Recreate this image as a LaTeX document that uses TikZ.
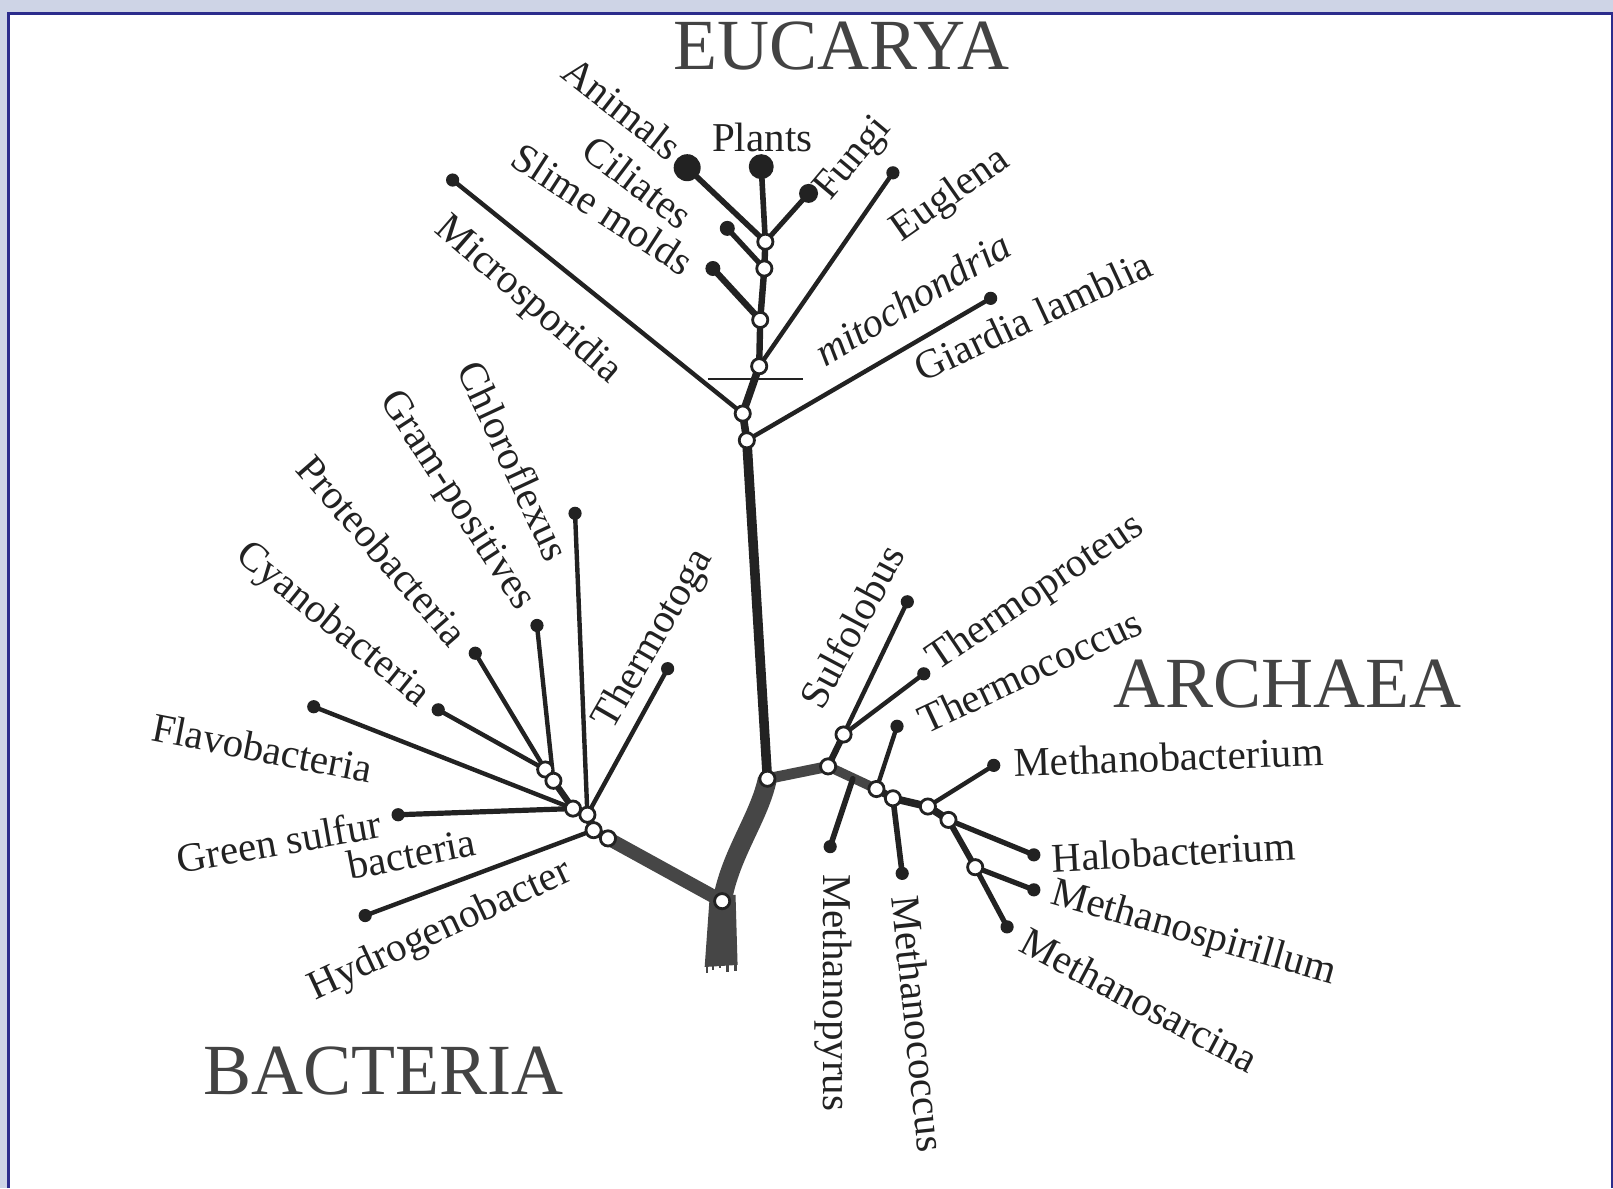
\documentclass[tikz,border=0pt]{standalone}
\usepackage{fontspec}
\setmainfont{Liberation Serif}

\definecolor{bandgray}{RGB}{206,212,230}
\definecolor{frameblue}{RGB}{44,44,140}
\definecolor{ink}{RGB}{34,34,34}
\definecolor{bark}{RGB}{70,70,70}

\pgfdeclarelayer{paper}
\pgfdeclarelayer{twigs}
\pgfsetlayers{paper,twigs,main}

\tikzset{
  leaf/.style={circle, fill=ink, inner sep=0pt, minimum size=6.6pt},
  bigleaf/.style={leaf, minimum size=13pt},
  fork/.style={circle, draw=ink, fill=white, line width=1.4pt, inner sep=0pt, minimum size=7.6pt},
  twig/.style={draw=ink, line width=2.2pt, line cap=round},
  limb/.style={draw=bark, line width=5.4pt, line cap=round},
  taxon/.style={font=\fontsize{20.5}{24}\selectfont, inner sep=0pt, text=ink},
  kingdom/.style={font=\fontsize{36}{40}\selectfont, inner sep=0pt, text=ink!85},
}

\begin{document}
\begin{tikzpicture}[x=0.5144pt, y=-0.5144pt]
    \useasboundingbox (0,0) rectangle (1568,1155);
    \begin{pgfonlayer}{paper}
        \fill[bandgray] (0,0) rectangle (1568,1155);
        \fill[white] (8,13) rectangle (1568,1155);
        \draw[frameblue, line width=1.4pt] (8,1155) -- (8,13) -- (1567,13) -- (1567,1155);
    \end{pgfonlayer}

    % domains
    \node[kingdom] (eucarya) at (818,45) {EUCARYA};
    \node[kingdom] (archaea) at (1252,665) {ARCHAEA};
    \node[kingdom] (bacteria) at (373,1041) {BACTERIA};

    % trunk
    \node[fork] (b0) at (702,876) {};
    \node[fork] (j0) at (746,757) {};

    % eucarya
    \node[fork] (e1) at (744,235) {};
    \node[fork] (e2) at (743,261) {};
    \node[fork] (e3) at (739,311) {};
    \node[fork] (e4) at (738,356) {};
    \node[fork] (e5) at (722,402) {};
    \node[fork] (e6) at (726,428) {};
    \node[bigleaf, minimum size=13.5pt] (animals) at (668,163) {};
    \node[bigleaf, minimum size=12.5pt] (plants) at (740,162) {};
    \node[leaf, minimum size=9.5pt] (fungi) at (786,188) {};
    \node[leaf, minimum size=7.5pt] (ciliates) at (707,222) {};
    \node[leaf, minimum size=7.5pt] (slime) at (693,261) {};
    \node[leaf] (micro) at (440,175) {};
    \node[leaf] (euglena) at (868,168) {};
    \node[leaf] (giardia) at (963,290) {};
    \coordinate (mitoL) at (688,368);
    \coordinate (mitoR) at (781,368);

    \node[taxon, rotate=-38] (l-animals) at (605,105) {Animals};
    \node[taxon] (l-plants) at (741,134) {Plants};
    \node[taxon, rotate=50] (l-fungi) at (830,155) {Fungi};
    \node[taxon, rotate=-37] (l-ciliates) at (620,177) {Ciliates};
    \node[taxon, rotate=-33] (l-slime) at (586,203) {Slime molds};
    \node[taxon, rotate=-41] (l-micro) at (513,292) {Microsporidia};
    \node[taxon, rotate=35] (l-euglena) at (924,190) {Euglena};
    \node[taxon, rotate=31, font=\fontsize{20.5}{24}\selectfont\itshape] (l-mito) at (887,290) {mitochondria};
    \node[taxon, rotate=25] (l-giardia) at (1004,307) {Giardia lamblia};

    % bacteria
    \node[fork] (ba1) at (530,748) {};
    \node[fork] (ba2) at (538,759) {};
    \node[fork] (bb) at (557,786) {};
    \node[fork] (bc) at (571,792) {};
    \node[fork] (bd) at (577,807) {};
    \node[fork] (be) at (591,815) {};
    \node[leaf] (chloro) at (559,499) {};
    \node[leaf] (gram) at (522,608) {};
    \node[leaf] (proteo) at (462,635) {};
    \node[leaf] (cyano) at (426,690) {};
    \node[leaf] (flavo) at (305,687) {};
    \node[leaf] (green) at (387,792) {};
    \node[leaf] (hydro) at (355,890) {};
    \node[leaf] (thermotoga) at (649,650) {};

    \node[taxon, rotate=-65] (l-chloro) at (500,448) {Chloroflexus};
    \node[taxon, rotate=-57] (l-gram) at (443,487) {Gram-positives};
    \node[taxon, rotate=-49] (l-proteo) at (372,535) {Proteobacteria};
    \node[taxon, rotate=-39] (l-cyano) at (323,608) {Cyanobacteria};
    \node[taxon, rotate=60] (l-thermotoga) at (636,622) {Thermotoga};
    \node[taxon, rotate=-11] (l-flavo) at (255,727) {Flavobacteria};
    \node[taxon, rotate=10] (l-green) at (271,818) {Green sulfur};
    \node[taxon, rotate=11] (l-green2) at (400,830) {bacteria};
    \node[taxon, rotate=25] (l-hydro) at (428,905) {Hydrogenobacter};

    % archaea
    \node[fork] (a1) at (805,745) {};
    \node[fork] (as) at (820,714) {};
    \node[fork] (a2) at (852,767) {};
    \node[fork] (a3) at (868,776) {};
    \node[fork] (a4) at (902,784) {};
    \node[fork] (a5) at (922,797) {};
    \node[fork] (a6) at (948,843) {};
    \coordinate (mp) at (829,757);
    \node[leaf] (sulfolobus) at (882,585) {};
    \node[leaf] (thermoproteus) at (898,655) {};
    \node[leaf] (thermococcus) at (872,706) {};
    \node[leaf] (methanopyrus) at (807,823) {};
    \node[leaf] (methanococcus) at (877,849) {};
    \node[leaf] (methanobact) at (966,744) {};
    \node[leaf] (halo) at (1005,831) {};
    \node[leaf] (spirillum) at (1005,865) {};
    \node[leaf] (sarcina) at (979,901) {};

    \node[taxon, rotate=62] (l-sulfolobus) at (828,609) {Sulfolobus};
    \node[taxon, rotate=34] (l-thermoproteus) at (1007,577) {Thermoproteus};
    \node[taxon, rotate=25] (l-thermococcus) at (1001,652) {Thermococcus};
    \node[taxon, rotate=2] (l-methanobact) at (1136,736) {Methanobacterium};
    \node[taxon, rotate=3] (l-halo) at (1141,828) {Halobacterium};
    \node[taxon, rotate=-16] (l-spirillum) at (1160,908) {Methanospirillum};
    \node[taxon, rotate=-28] (l-sarcina) at (1108,972) {Methanosarcina};
    \node[taxon, rotate=-90] (l-methanopyrus) at (810,965) {Methanopyrus};
    \node[taxon, rotate=-84] (l-methanococcus) at (893,995) {Methanococcus};

    \begin{pgfonlayer}{twigs}
        % root and trunk
        \fill[bark] (690,870) -- (715,870) -- (717,938) -- (685,940) -- cycle;
        \foreach \rx/\rl in {687/10, 693/7, 700/5, 707/9, 715/8}
            \draw[bark, line width=1.2pt] (\rx,936) -- ++(0,\rl);
        \draw[bark, line width=9.5pt] (b0.center) .. controls (710,830) and (738,795) .. (j0.center);
        \draw[ink, line width=4.8pt] (j0.center) -- (e6.center);

        % eucarya
        \draw[ink, line width=3.8pt] (e6.center) -- (e5.center) -- (e4.center);
        \draw[ink, line width=3.2pt] (e4.center) -- (e3.center) -- (e2.center) -- (e1.center);
        \draw[twig, line width=2.8pt] (e1.center) -- (animals.center);
        \draw[twig, line width=2.8pt] (e1.center) -- (plants.center);
        \draw[twig, line width=2.5pt] (e1.center) -- (fungi.center);
        \draw[twig, line width=2.6pt] (e2.center) -- (ciliates.center);
        \draw[twig, line width=3.2pt] (e3.center) -- (slime.center);
        \draw[twig] (e4.center) -- (euglena.center);
        \draw[twig] (e5.center) -- (micro.center);
        \draw[twig] (e6.center) -- (giardia.center);
        \draw[ink, line width=1pt] (mitoL) -- (mitoR);

        % bacteria
        \draw[limb, line width=6.8pt] (b0.center) -- (be.center);
        \draw[ink, line width=4.2pt] (be.center) -- (bd.center) -- (bc.center) -- (bb.center);
        \draw[ink, line width=3.2pt] (bb.center) -- (ba2.center) -- (ba1.center);
        \draw[twig] (ba1.center) -- (cyano.center);
        \draw[twig] (ba1.center) -- (proteo.center);
        \draw[twig] (ba2.center) -- (gram.center);
        \draw[twig] (bb.center) -- (flavo.center);
        \draw[twig, line width=2.6pt] (bb.center) -- (green.center);
        \draw[twig] (bc.center) -- (chloro.center);
        \draw[twig] (bc.center) -- (thermotoga.center);
        \draw[twig] (bd.center) -- (hydro.center);

        % archaea
        \draw[limb] (j0.center) -- (a1.center);
        \draw[limb, line width=4.8pt] (a1.center) -- (a2.center);
        \draw[ink, line width=3.8pt] (a2.center) -- (a3.center) -- (a4.center) -- (a5.center);
        \draw[ink, line width=3pt] (a5.center) -- (a6.center);
        \draw[ink, line width=3.2pt] (a1.center) -- (as.center);
        \draw[twig] (as.center) -- (sulfolobus.center);
        \draw[twig] (as.center) -- (thermoproteus.center);
        \draw[twig] (a2.center) -- (thermococcus.center);
        \draw[twig, line width=2.8pt] (mp) -- (methanopyrus.center);
        \draw[twig, line width=2.8pt] (a3.center) -- (methanococcus.center);
        \draw[twig] (a4.center) -- (methanobact.center);
        \draw[twig, line width=2.6pt] (a5.center) -- (halo.center);
        \draw[twig, line width=2.6pt] (a6.center) -- (spirillum.center);
        \draw[twig, line width=2.6pt] (a6.center) -- (sarcina.center);
    \end{pgfonlayer}
\end{tikzpicture}
\end{document}
